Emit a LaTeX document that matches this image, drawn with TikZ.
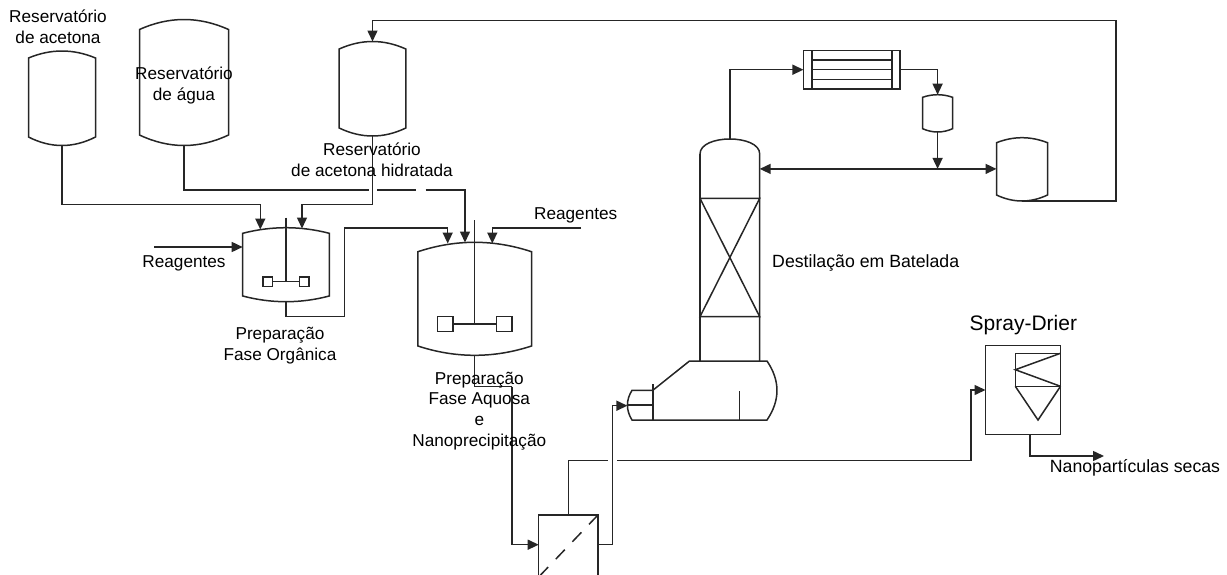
\documentclass[tikz,border=0pt]{standalone}
\usepackage{fontspec}
\setmainfont{Liberation Sans}
\usetikzlibrary{calc,arrows.meta}
\tikzset{
    flow/.style={-{Triangle[length=11pt,width=10pt]}},
    unit/.style={draw, inner sep=0pt, outer sep=0pt},
    label/.style={align=center, inner sep=0pt, text=black, font=\fontsize{17.2}{20.8}\selectfont},
    labelwide/.style={label, font=\fontsize{17.7}{21}\selectfont}
}
% name, centre x, half width, top, shoulder, lower shoulder, bottom
\newcommand{\vessel}[7]{
    \pgfmathsetmacro{\vesL}{#2-#3}
    \pgfmathsetmacro{\vesR}{#2+#3}
    \pgfmathsetmacro{\vesLc}{#2-#3/3}
    \pgfmathsetmacro{\vesRc}{#2+#3/3}
    \pgfmathsetmacro{\vesT}{#5+4*(#4-#5)/3}
    \pgfmathsetmacro{\vesB}{#6+4*(#7-#6)/3}
    \draw (\vesL,#5) .. controls (\vesLc,\vesT) and (\vesRc,\vesT) .. (\vesR,#5) -- (\vesR,#6)
        .. controls (\vesRc,\vesB) and (\vesLc,\vesB) .. (\vesL,#6) -- cycle;
    \coordinate (#1 top) at (#2,#4);
    \coordinate (#1 bot) at (#2,#7);
}
\begin{document}
\begin{tikzpicture}[x=1pt, y=-1pt, line width=1.5pt, color=black!85]
    \useasboundingbox (0,0) rectangle (1227,574);

    % Reservoirs
    \vessel{acet}{62}{33.5}{51}{58}{137}{145.5}
    \vessel{agua}{184}{44.5}{19.5}{29.5}{135}{145.5}
    \vessel{hidr}{372.5}{33.3}{41.5}{49}{128}{136}

    % Organic phase mixer
    \vessel{mixo}{286}{43.3}{227.7}{233.3}{296}{301.7}
    \node[unit, minimum size=9.6pt] (mixo pl) at (267.8,281.7) {};
    \node[unit, minimum size=9.6pt] (mixo pr) at (304.3,281.7) {};
    \coordinate (mixo sh) at (286,217.7);
    \coordinate (mixo hub) at (286,281.7);
    \draw (mixo sh) -- (mixo hub);
    \draw (mixo pl) -- (mixo pr);

    % Aqueous phase mixer
    \vessel{mixa}{474.7}{56.8}{242.3}{251.7}{346}{355.3}
    \node[unit, minimum size=15.3pt] (mixa pl) at (445.3,324) {};
    \node[unit, minimum size=15.3pt] (mixa pr) at (504.3,324) {};
    \coordinate (mixa sh) at (474.7,220);
    \coordinate (mixa hub) at (474.7,324);
    \draw (mixa sh) -- (mixa hub);
    \draw (mixa pl) -- (mixa pr);

    % Filter
    \node[unit, minimum width=59.3pt, minimum height=62pt] (filter) at (568.3,546) {};
    \draw[dash pattern=on 13pt off 11pt] (filter.north east) -- (filter.south west);

    % Column and reboiler
    \draw (700,154) .. controls (700,134) and (759.7,134) .. (759.7,154) -- (759.7,361);
    \draw (700,154) -- (700,361);
    \coordinate (col top) at (729.8,139);
    \draw (700,198.3) -- (759.7,198.3) -- (700,316.7) -- (759.7,316.7) -- (700,198.3);
    \draw (652.8,384) -- (652.8,420);
    \draw (652.8,390.3) -- (689.5,361) -- (767,361) .. controls (780.3,380.7) and (780.3,400.3) .. (767,420)
        -- (632,420) .. controls (625.9,410.2) and (625.9,400.1) .. (632,390.3) -- (652.8,390.3);
    \draw (627.4,405) -- (652.8,405);
    \draw (739.5,391.3) -- (739.5,420);

    % Condenser
    \node[unit, minimum width=96.5pt, minimum height=38.6pt] (cond) at (851.7,69.7) {};
    \draw (812,50.4) -- (812,89);
    \draw (892,50.4) -- (892,89);
    \draw (812,60) -- (892,60);
    \draw (812,69.7) -- (892,69.7);
    \draw (812,79.3) -- (892,79.3);

    % Drums
    \vessel{drum}{937.6}{15}{94.7}{97.3}{128.7}{132}
    \vessel{dist}{1022}{25.5}{137.7}{142.7}{195}{201}

    % Spray drier
    \node[unit, minimum width=75pt, minimum height=88.6pt] (spray) at (1023,390) {};
    \draw (1060.5,353.3) -- (1015.3,353.3) -- (1015.3,386.3) -- (1060.5,386.3);
    \draw (1060.5,353.3) -- (1015.3,369.7) -- (1060.5,386.3);
    \draw (1015.3,386.3) -- (1038,420) -- (1060.5,386.3);

    % Ports and free ends
    \coordinate (reag a) at (154.3,247);
    \coordinate (mixo w) at (242.7,247);
    \coordinate (mixo a) at (260.3,229.5);
    \coordinate (mixo b) at (302,228.5);
    \coordinate (bus a) at (260.3,204.7);
    \coordinate (bus b) at (302,204.7);
    \coordinate (bus c) at (344.3,316.7);
    \coordinate (bus d) at (344.3,228);
    \coordinate (mixa a) at (447.7,243.5);
    \coordinate (mixa b) at (465,242.5);
    \coordinate (mixa c) at (492.3,243.5);
    \coordinate (reag b) at (581,228);
    \coordinate (tee a) at (368.5,190);
    \coordinate (tee b) at (377,190);
    \coordinate (tee c) at (416,190);
    \coordinate (tee d) at (425.7,190);
    \coordinate (mixa drop) at (474.7,386.7);
    \coordinate (pipe e) at (512,386.7);
    \coordinate (filt in) at (538.7,544.7);
    \coordinate (filt east) at (598,544.7);
    \coordinate (filt out) at (612.7,544.7);
    \coordinate (reb in) at (627.4,405.7);
    \coordinate (tee e) at (608.3,460.7);
    \coordinate (tee f) at (617.3,460.7);
    \coordinate (spray rise) at (971,460.7);
    \coordinate (col in) at (759.7,168.9);
    \coordinate (jct) at (937.6,168.9);
    \coordinate (dist in) at (996.5,168.9);
    \coordinate (rec) at (1116,20.7);
    \coordinate (spray bot) at (1030.2,434.3);
    \coordinate (prod) at (1104,456);

    % Pipes
    \draw[flow] (acet bot) |- (bus a) -- (mixo a);
    \draw[flow] (hidr bot) |- (bus b) -- (mixo b);
    \draw[flow] (reag a) -- (mixo w);
    \draw (agua bot) |- (tee a);
    \draw (tee b) -- (tee c);
    \draw[flow] (tee d) -| (mixa b);
    \draw[flow] (mixo bot) |- (bus c) -- (bus d) -| (mixa a);
    \draw[flow] (reag b) -| (mixa c);
    \draw (mixa bot) -- (mixa drop) -- (pipe e);
    \draw[flow] (pipe e) |- (filt in);
    \draw (filt east) -- (filt out);
    \draw[flow] (filt out) |- (reb in);
    \draw (filter.north) |- (tee e);
    \draw (tee f) -- (spray rise);
    \draw[flow] (spray rise) |- (spray.west);
    \draw[flow] (spray bot) |- (prod);
    \draw[flow] (col top) |- (cond.west);
    \draw[flow] (cond.east) -| (drum top);
    \draw[flow] (drum bot) -- (jct);
    \draw[flow] (jct) -- (col in);
    \draw[flow] (jct) -- (dist in);
    \draw[flow] (dist bot) -| (rec) -| (hidr top);

    % Labels
    \node[label] (lab acet) at (58,27) {Reservat\'orio\\de acetona};
    \node[label] (lab agua) at (184,85.5) {Reservat\'orio\\de \'agua};
    \node[label] (lab hidr) at (372,159.5) {Reservat\'orio\\de acetona hidratada};
    \node[label] (lab reaga) at (184,263) {Reagentes};
    \node[label] (lab reagb) at (575.7,215.3) {Reagentes};
    \node[label] (lab orga) at (280,345.5) {Prepara\c{c}\~ao\\Fase Org\^anica};
    \node[label] (lab aquo) at (479.3,411) {Prepara\c{c}\~ao\\Fase Aquosa\\e\\Nanoprecipita\c{c}\~ao};
    \node[labelwide] (lab dest) at (865.7,263.3) {Destila\c{c}\~ao em Batelada};
    \node[label, font=\fontsize{21}{24}\selectfont] (lab spray) at (1023.4,325) {Spray-Drier};
    \node[labelwide] (lab nano) at (1135,468.3) {Nanopart\'iculas secas};
\end{tikzpicture}
\end{document}
